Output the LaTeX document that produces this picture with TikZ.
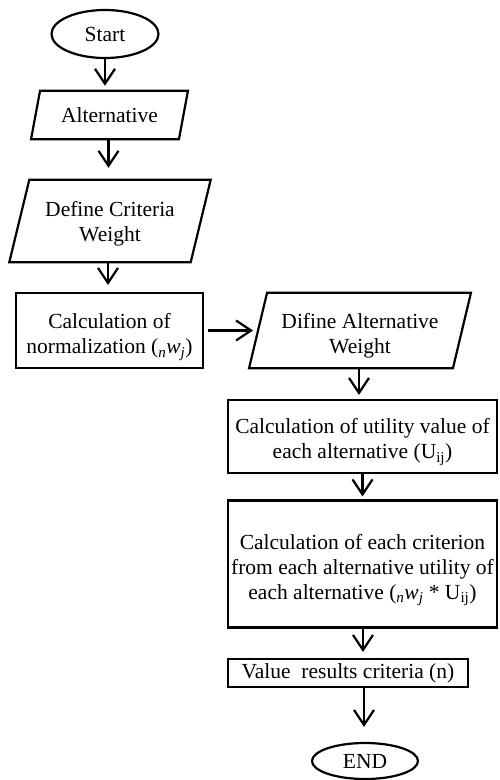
\documentclass[tikz,border=0pt]{standalone}
\usepackage{fontspec}
\setmainfont{Liberation Serif}
\usetikzlibrary{arrows.meta,shapes.geometric}
\newcommand\parabox[2]{\draw[shape line] ([xshift=#2]#1.north west) -- ([xshift=#2]#1.north east) -- ([xshift=-#2]#1.south east) -- ([xshift=-#2]#1.south west) -- cycle;}
\tikzset{
  shape line/.style={line width=2.2pt, line join=miter},
  base/.style={inner sep=0pt, align=center, font=\fontsize{21.5}{25}\selectfont},
  term/.style={base, ellipse, draw, line width=2.2pt},
  procbox/.style={base, rectangle, draw, line width=2.2pt},
  iobox/.style={base, rectangle},
  flow/.style={line width=2.2pt, -{Straight Barb[length=15pt,width=20pt]}},
}
\begin{document}
\begin{tikzpicture}[x=1pt,y=-1pt]
\useasboundingbox (0,0) rectangle (499,780);
\node[term, minimum width=107pt, minimum height=48pt] (start) at (105,34) {Start};
\node[iobox, minimum width=147.5pt, minimum height=48pt] (alt) at (109.5,115) {Alternative};
\parabox{alt}{4.5pt}
\node[iobox, minimum width=181pt, minimum height=82pt] (def) at (110,221) {};
\node[base] (deft) at (110,224) {Define Criteria\\Weight};
\parabox{def}{10pt}
\node[procbox, minimum width=187pt, minimum height=75pt] (calc) at (109.5,330.5) {};
\node[base] (calct) at (109.5,337) {Calculation of\\normalization ({\itshape\textsubscript{n}w\textsubscript{j}})};
\node[iobox, minimum width=203.5pt, minimum height=75pt] (dif) at (360,330.5) {};
\node[base] (dift) at (360,336) {Difine Alternative\\Weight};
\parabox{dif}{9pt}
\node[procbox, minimum width=269pt, minimum height=73pt] (util) at (362.5,436.5) {};
\node[base] (utilt) at (362.5,442) {Calculation of utility value of\\each alternative (U\textsubscript{ij})};
\node[procbox, minimum width=269pt, minimum height=127pt] (big) at (362.5,564) {};
\node[base] (bigt) at (362.5,570) {Calculation of each criterion\\from each alternative utility of\\each alternative ({\itshape\textsubscript{n}w\textsubscript{j}} * U\textsubscript{ij})};
\node[procbox, minimum width=240pt, minimum height=28pt] (val) at (348,673) {Value\ \ results criteria (n)};
\node[term, minimum width=106pt, minimum height=36pt] (end) at (365,761) {END};
\draw[flow] (start.south) -- ([yshift=5pt]start.south |- alt.north);
\draw[flow] ([xshift=-1pt]alt.south) -- ([xshift=-1pt,yshift=12pt]alt.south |- def.north);
\draw[flow] ([xshift=-2pt]def.south) -- ([xshift=-2pt,yshift=7pt]def.south |- calc.north);
\draw[flow] ([xshift=4pt]calc.east) -- ([xshift=-5pt]dif.west);
\draw[flow] ([xshift=-1pt]dif.south) -- ([xshift=-1pt,yshift=4pt]dif.south |- util.north);
\draw[flow] (util.south) -- ([yshift=3pt]util.south |- big.north);
\draw[flow] ([xshift=0.5pt]big.south) -- ([xshift=0.5pt,yshift=6pt]big.south |- val.north);
\draw[flow] ([xshift=16pt]val.south) -- ([xshift=16pt,yshift=15pt]val.south |- end.north);
\end{tikzpicture}
\end{document}
